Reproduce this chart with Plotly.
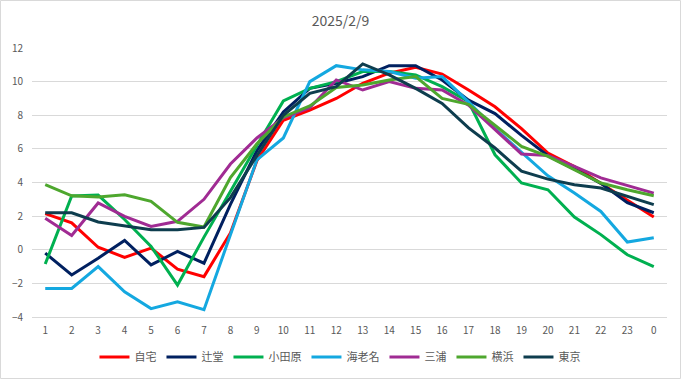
import plotly.graph_objects as go

hours = [str(h) for h in range(1, 24)] + ["0"]

jitaku   = [2.15, 1.6, 0.15, -0.45, 0.1, -1.15, -1.6, 1.0, 5.3, 7.7, 8.3, 9.0, 9.9, 10.5, 10.85, 10.45, 9.5, 8.5, 7.2, 5.75, 4.95, 3.95, 2.95, 1.95]
tsujido  = [-0.2, -1.5, -0.5, 0.55, -0.9, -0.1, -0.8, 2.7, 5.9, 8.2, 9.6, 9.9, 10.3, 10.95, 10.95, 10.1, 8.9, 8.1, 6.8, 5.6, 4.8, 3.95, 2.8, 2.2]
odawara  = [-0.85, 3.2, 3.25, 1.8, 0.2, -2.1, 0.75, 3.5, 6.2, 8.85, 9.6, 10.0, 10.6, 10.6, 10.4, 9.7, 8.8, 5.65, 3.97, 3.57, 1.95, 0.9, -0.3, -1.0]
ebina    = [-2.3, -2.3, -1.0, -2.5, -3.5, -3.1, -3.57, 0.9, 5.35, 6.65, 10.0, 10.95, 10.7, 10.6, 10.2, 10.3, 8.8, 7.2, 5.8, 4.4, 3.37, 2.28, 0.46, 0.72]
miura    = [1.88, 0.85, 2.78, 1.98, 1.39, 1.69, 3.0, 5.1, 6.65, 7.85, 8.45, 10.1, 9.5, 10.0, 9.6, 9.5, 8.6, 7.15, 5.7, 5.6, 4.96, 4.27, 3.81, 3.37]
yokohama = [3.87, 3.21, 3.14, 3.27, 2.88, 1.63, 1.35, 4.3, 6.3, 7.9, 8.55, 9.65, 9.8, 10.1, 10.3, 9.0, 8.65, 7.4, 6.15, 5.55, 4.76, 3.97, 3.57, 3.21]
tokyo    = [2.2, 2.2, 1.65, 1.43, 1.19, 1.19, 1.33, 3.1, 5.6, 8.0, 9.3, 9.7, 11.05, 10.4, 9.6, 8.7, 7.25, 6.05, 4.67, 4.2, 3.87, 3.67, 3.17, 2.68]

series = [
    ("自宅", jitaku, "#FF0000"),
    ("辻堂", tsujido, "#002060"),
    ("小田原", odawara, "#00B050"),
    ("海老名", ebina, "#14A8E0"),
    ("三浦", miura, "#A02B93"),
    ("横浜", yokohama, "#4EA72E"),
    ("東京", tokyo, "#0E3D4E"),
]

font_family = "Noto Sans CJK JP, Noto Sans, sans-serif"

fig = go.Figure()
for name, vals, color in series:
    fig.add_trace(go.Scatter(
        x=hours, y=vals, name=name, mode="lines",
        line=dict(color=color, width=3),
    ))

fig.update_layout(
    width=681, height=379,
    margin=dict(l=32, r=14, t=48, b=62, autoexpand=False),
    paper_bgcolor="white", plot_bgcolor="white",
    font=dict(family=font_family, color="#595959", size=11),
    title=dict(text="2025/2/9", x=0.5, xanchor="center", y=0.945, yanchor="middle",
               font=dict(size=14, color="#595959")),
    showlegend=True,
    legend=dict(orientation="h", x=0.485, xanchor="center", y=-0.149, yanchor="middle",
                font=dict(size=11, color="#595959"), bgcolor="rgba(0,0,0,0)",
                itemwidth=30, tracegroupgap=0),
)
fig.update_xaxes(type="category", range=[-0.5, 23.5], showgrid=False, showline=True,
                 linecolor="#D9D9D9", ticks="", tickfont=dict(size=10, color="#595959"),
                 ticklabelstandoff=4, automargin=False)
fig.update_yaxes(range=[-4, 12], dtick=2, showgrid=True, gridcolor="#D9D9D9", gridwidth=1,
                 zeroline=False, showline=False, ticks="", tickfont=dict(size=10, color="#595959"),
                 ticklabelstandoff=8, automargin=False)

fig.add_shape(type="rect", xref="paper", yref="paper",
              x0=-0.0496, x1=1.0213, y0=-0.2286, y1=1.1766,
              line=dict(color="#D9D9D9", width=1), fillcolor="rgba(0,0,0,0)", layer="below")

fig.write_html("out.html", config={"displayModeBar": False},
               post_script="document.body.style.margin='0';")
